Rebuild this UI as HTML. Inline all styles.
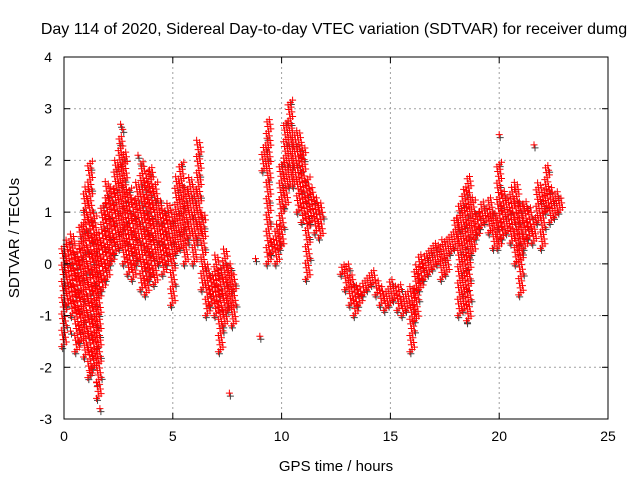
<!DOCTYPE html>
<html><head><meta charset="utf-8"><style>
body{margin:0;background:#fff}
svg{display:block;font-family:"Liberation Sans",sans-serif}
</style></head><body>
<svg id="c" width="640" height="480" viewBox="0 0 640 480">
<text x="334" y="34" font-size="16" text-anchor="middle">Day 114 of 2020, Sidereal Day-to-day VTEC variation (SDTVAR) for receiver dumg</text>
<text x="336" y="471" font-size="15" text-anchor="middle">GPS time / hours</text>
<text transform="translate(19,238) rotate(-90)" font-size="15" text-anchor="middle">SDTVAR / TECUs</text>
<g id="grid"></g><g id="marks"></g><g id="axes"></g>
</svg>
<script>
const xTicks=[0,5,10,15,20,25];
const yTicks=[-3,-2,-1,0,1,2,3,4];
const binT=[0,0.2,0.4,0.6,0.8,1,1.2,1.4,1.6,1.8,2,2.2,2.4,2.6,2.8,3,3.2,3.4,3.6,3.8,4,4.2,4.4,4.6,4.8,5,5.2,5.4,5.6,5.8,6,6.2,6.4,6.6,6.8,7,7.2,7.4,7.6,7.8,9.2,9.4,9.6,9.8,10,10.2,10.4,10.6,10.8,11,11.2,11.4,11.6,11.8,12.8,13,13.2,13.4,13.6,13.8,14,14.2,14.4,14.6,14.8,15,15.2,15.4,15.6,15.8,16,16.2,16.4,16.6,16.8,17,17.2,17.4,17.6,17.8,18,18.2,18.4,18.6,18.8,19,19.2,19.4,19.6,19.8,20,20.2,20.4,20.6,20.8,21,21.2,21.4,21.6,21.8,22,22.2,22.4,22.6,22.8];
const binLo=[-1.6,-0.8,-1,-1.7,-1.5,-1.8,-2.2,-2,-2.6,-0.5,-0.3,0,0.2,0.3,0,-0.2,-0.3,0,-0.5,-0.6,-0.3,-0.4,0,-0.2,0,-0.8,0.2,0.3,0,0.5,0,0.5,-0.5,-1,-0.8,-1,-1.7,-1.2,-0.9,-1.2,1.8,0,0.2,0,0.3,1.1,1.5,1.5,1,0.8,-0.3,0.8,0.6,0.5,-0.2,-0.5,-0.8,-1,-0.8,-0.6,-0.5,-0.4,-0.6,-0.8,-0.9,-0.8,-0.7,-0.9,-1,-0.9,-1.7,-1.1,-0.5,-0.3,-0.2,-0.1,0,-0.3,-0.2,0.2,0.3,-1,-0.9,-1.1,0.2,0.5,0.7,0.8,0.6,0.3,0.3,0.5,0.6,0.4,0,-0.6,0.3,0.5,0.4,0.8,0.3,1,0.8,0.9,1];
const binHi=[0.4,0.5,0.6,0.3,0.8,1.5,2,1,0.6,1.2,1.6,1.5,2,2.5,2.2,1.5,1.3,1.6,2,1.8,1.9,1.6,1.3,1.1,1.2,1,1.7,2,1.5,1.7,1.5,2.4,1,0,-0.2,0.2,0,0.3,0,-0.2,2.3,2.8,0.5,0.8,2,2.8,3.2,2.5,2.6,2.3,1.7,1.5,1.3,1.2,0,0,-0.2,-0.4,-0.4,-0.3,-0.2,-0.1,-0.3,-0.4,-0.5,-0.3,-0.4,-0.4,-0.6,-0.5,-0.4,0,0.2,0.2,0.3,0.4,0.4,0.5,0.5,0.6,0.9,1.2,1.5,1.7,1.3,1,1.2,1.1,1.3,1,2,1.4,1.3,1.5,1.6,1.2,1.2,1.1,0.9,1.6,1.5,1.9,1.5,1.4,1.3];
const outT=[1.65,1.5,2.6,3.4,9,7.6,8.8,2.7,10.9,20,21.6,18.5,0.3,1.2];
const outV=[-2.8,-2.3,2.7,2.1,-1.4,-2.5,0.1,2.6,2.1,2.5,2.3,-1.1,-1.3,-2.1];
const X0=64,X1=608,Y0=419,Y1=57;
const sx=t=>X0+(t-0)/(25-0)*(X1-X0);
const sy=v=>Y0-(v+3)/7*(Y0-Y1);
const NS="http://www.w3.org/2000/svg";
function mk(tag,at,parent){const e=document.createElementNS(NS,tag);for(const k in at)e.setAttribute(k,at[k]);parent.appendChild(e);return e;}
const grid=document.getElementById('grid'),marks=document.getElementById('marks'),axes=document.getElementById('axes');
xTicks.forEach(t=>{
 if(t>0&&t<25){const l=mk('line',{x1:sx(t),x2:sx(t),y1:Y1,y2:Y0,stroke:'#a0a0a0','stroke-dasharray':'2,3'},grid);
 
 }
 const tx=mk('text',{x:sx(t),y:Y0+22,'font-size':14,'text-anchor':'middle'},axes);tx.textContent=t;
 
 
 mk('line',{x1:sx(t),x2:sx(t),y1:Y0,y2:Y0-6,stroke:'#000'},axes);
 mk('line',{x1:sx(t),x2:sx(t),y1:Y1,y2:Y1+6,stroke:'#000'},axes);
});
yTicks.forEach(v=>{
 if(v>-3&&v<4){const l=mk('line',{x1:X0,x2:X1,y1:sy(v),y2:sy(v),stroke:'#a0a0a0','stroke-dasharray':'2,3'},grid);
 
 }
 const tx=mk('text',{x:X0-12,y:sy(v)+5,'font-size':14,'text-anchor':'end'},axes);tx.textContent=v;
 
 
 mk('line',{x1:X0,x2:X0+6,y1:sy(v),y2:sy(v),stroke:'#000'},axes);
 mk('line',{x1:X1,x2:X1-6,y1:sy(v),y2:sy(v),stroke:'#000'},axes);
});
const box=mk('rect',{x:X0,y:Y1,width:X1-X0,height:Y0-Y1,fill:'none',stroke:'#000'},axes);


let dRed='',dGrey='';
function plus(x,y){return `M${x-3.5},${y}h7M${x},${y-3.5}v7`;}
binT.forEach((t,i)=>{
 const lo=binLo[i],hi=binHi[i];
 let k=0;
 for(let v=lo;v<=hi+1e-9;v+=0.045){
  const dt=((k*3%7)-3)*0.035;
  const x=sx(t+dt),y=sy(v);
  dRed+=plus(x,y);
  if(k%9==0)dGrey+=plus(x+1,y+2);
  k++;
 }
});
outT.forEach((t,i)=>{dRed+=plus(sx(t),sy(outV[i]));dGrey+=plus(sx(t)+1,sy(outV[i])+3);});
const pg=mk('path',{d:dGrey,stroke:'#404040','stroke-width':1,fill:'none'},marks);


const pr=mk('path',{d:dRed,stroke:'#ff0000','stroke-width':1,fill:'none'},marks);


</script>
</body></html>
